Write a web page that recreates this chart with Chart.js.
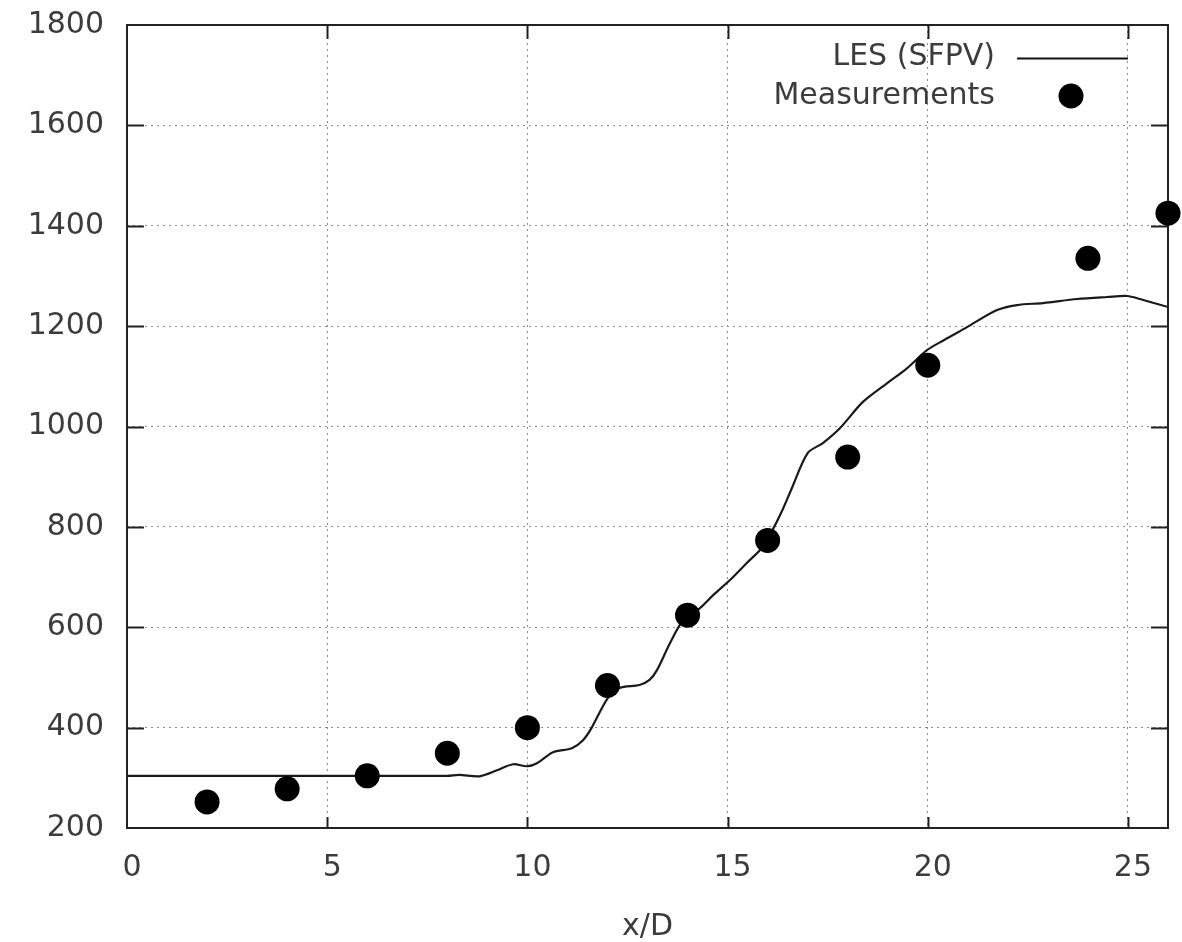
<!DOCTYPE html>
<html>
<head>
<meta charset="utf-8">
<script src="https://cdn.jsdelivr.net/npm/chart.js@4.4.0/dist/chart.umd.min.js"></script>
<style>
  html, body { margin: 0; padding: 0; background: #fff; }
  #wrap { width: 1182px; height: 942px; }
</style>
</head>
<body>
<div id="wrap"><canvas id="c" width="1182" height="942"></canvas></div>
<script>
// ---- data ----
const lesX = [0, 8.0, 8.3, 8.8, 9.24, 9.64, 9.99, 10.24, 10.64, 11.11, 11.39, 11.6, 12.0, 12.3, 12.8, 13.05, 13.24, 13.56, 13.89, 14.31, 14.64, 15.06, 15.48, 15.88, 16.1, 16.35, 16.6, 17.0, 17.38, 17.81, 18.38, 18.98, 19.48, 19.98, 20.4, 20.98, 21.73, 22.23, 22.88, 23.73, 24.48, 24.98, 25.3, 26.0];
const lesY = [304, 304, 306, 303, 315, 327, 323, 329, 351, 359, 375, 399, 458, 479, 485, 495, 515, 568, 614, 638, 664, 694, 728, 760, 790, 830, 876, 947, 967, 997, 1049, 1086, 1116, 1152, 1172, 1198, 1232, 1242, 1246, 1254, 1258, 1260, 1254, 1238];
const measX = [2, 4, 6, 8, 10, 12, 14, 16, 18, 20, 24, 26];
const measY = [252, 278, 304, 349, 400, 484, 624, 773, 939, 1122, 1335, 1425];
const xTicks = [0, 5, 10, 15, 20, 25];
const yTicks = [200, 400, 600, 800, 1000, 1200, 1400, 1600, 1800];
const seriesLabels = ['LES (SFPV)', 'Measurements'];
const xTitle = 'x/D';

const FONT = 'DejaVu Sans';
const TXT = '#3c3c3c';
const GRID = '#8c8c8c';

const framePlugin = {
  id: 'frame',
  beforeDatasetsDraw(chart) {
    const {ctx, chartArea: a, scales: {x, y}} = chart;
    ctx.save();
    ctx.strokeStyle = '#222';
    ctx.lineWidth = 2;
    ctx.setLineDash([]);
    ctx.beginPath();
    xTicks.forEach(v => {
      if (v === 0) return;
      const px = Math.round(x.getPixelForValue(v)) + 0.5;
      ctx.moveTo(px, a.bottom); ctx.lineTo(px, a.bottom - 11);
      ctx.moveTo(px, a.top); ctx.lineTo(px, a.top + 14);
    });
    yTicks.forEach(v => {
      if (v === 200 || v === 1800) return;
      const py = Math.round(y.getPixelForValue(v)) + 0.5;
      ctx.moveTo(a.left, py); ctx.lineTo(a.left + 17, py);
      ctx.moveTo(a.right, py); ctx.lineTo(a.right - 17, py);
    });
    ctx.stroke();
    ctx.strokeRect(a.left, a.top, a.right - a.left, a.bottom - a.top);
    ctx.restore();
  },
  afterDraw(chart) {
    const {ctx} = chart;
    const ds = chart.data.datasets;
    ctx.save();
    ctx.font = '30px "' + FONT + '"';
    ctx.fillStyle = TXT;
    ctx.textAlign = 'right';
    ctx.textBaseline = 'middle';
    const rows = [58, 97];
    ctx.fillText(ds[0].label, 995, rows[0] - 1);
    ctx.fillText(ds[1].label, 995, rows[1] - 1);
    ctx.strokeStyle = '#111';
    ctx.lineWidth = 2;
    ctx.beginPath();
    ctx.moveTo(1017, rows[0] + 0.5); ctx.lineTo(1128, rows[0] + 0.5);
    ctx.stroke();
    ctx.fillStyle = '#000';
    ctx.beginPath();
    ctx.arc(1071, rows[1] - 1, 12.5, 0, Math.PI * 2);
    ctx.fill();
    ctx.restore();
  }
};

new Chart(document.getElementById('c'), {
  type: 'scatter',
  data: {
    datasets: [
      {
        label: seriesLabels[0],
        data: lesX.map((v, i) => ({x: v, y: lesY[i]})),
        showLine: true,
        borderColor: '#1a1a1a',
        borderWidth: 2.2,
        pointRadius: 0,
        tension: 0.3,
        fill: false,
        order: 2
      },
      {
        label: seriesLabels[1],
        data: measX.map((v, i) => ({x: v, y: measY[i]})),
        showLine: false,
        backgroundColor: '#000',
        borderColor: '#000',
        pointRadius: 12.5,
        pointHoverRadius: 12.5,
        borderWidth: 0,
        clip: false,
        order: 1
      }
    ]
  },
  options: {
    responsive: false,
    animation: false,
    devicePixelRatio: 1,
    layout: { padding: { left: 0, right: 14, top: 25, bottom: 0 } },
    plugins: { legend: { display: false }, tooltip: { enabled: false } },
    scales: {
      x: {
        type: 'linear',
        min: 0, max: 26,
        afterBuildTicks: s => { s.ticks = xTicks.map(v => ({value: v})); },
        afterFit: s => { s.height = 114; s.paddingLeft = 0; s.paddingRight = 0; },
        grid: {
          drawTicks: false,
          color: c => (c.tick && c.tick.value === 0) ? 'rgba(0,0,0,0)' : GRID,
          lineWidth: 1
        },
        border: { display: false, dash: [2, 4] },
        ticks: {
          padding: 22,
          labelOffset: 5,
          color: TXT,
          font: { family: FONT, size: 30 },
          maxRotation: 0,
          autoSkip: false
        },
        title: {
          display: true,
          text: xTitle,
          color: TXT,
          font: { family: FONT, size: 30, lineHeight: 1 },
          padding: { top: 0, bottom: 0 }
        }
      },
      y: {
        type: 'linear',
        min: 200, max: 1800,
        afterBuildTicks: s => { s.ticks = yTicks.map(v => ({value: v})); },
        afterFit: s => { s.width = 127; s.paddingTop = 0; s.paddingBottom = 0; },
        grid: {
          drawTicks: false,
          color: c => (c.tick && (c.tick.value === 200 || c.tick.value === 1800)) ? 'rgba(0,0,0,0)' : GRID,
          lineWidth: 1
        },
        border: { display: false, dash: [2, 4] },
        ticks: {
          padding: 23,
          color: TXT,
          font: { family: FONT, size: 30 },
          autoSkip: false,
          callback: v => String(v)
        }
      }
    }
  },
  plugins: [framePlugin]
});
</script>
</body>
</html>
